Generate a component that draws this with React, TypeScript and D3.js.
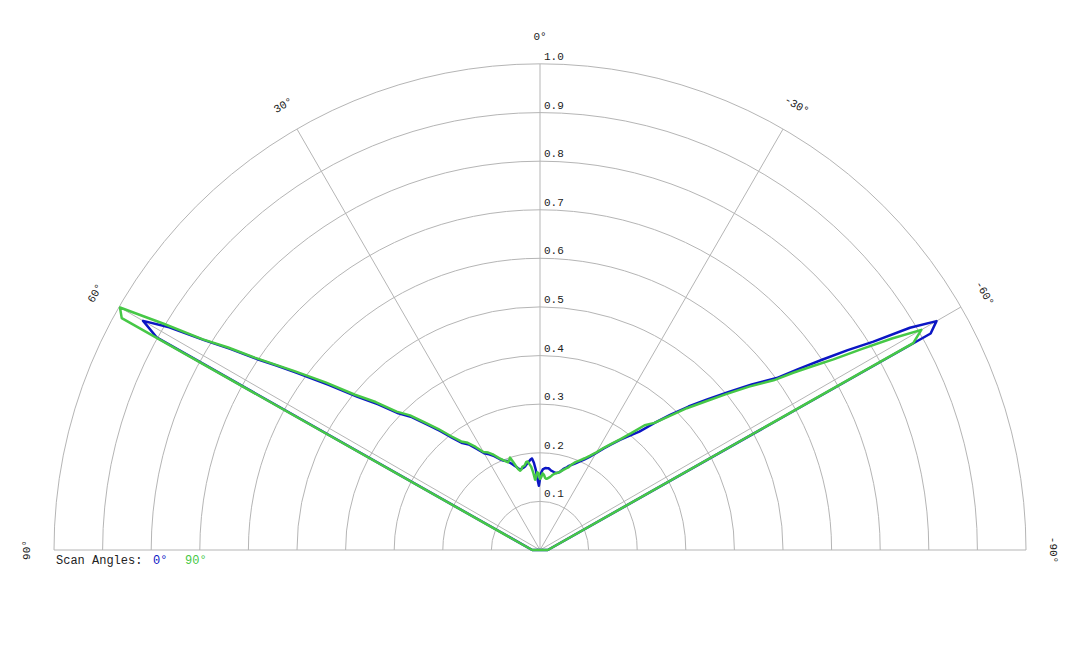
import * as d3 from 'd3';

// scan angle (deg, positive = left of boresight) shared by both series
const angles = [
  -90, -61, -60, -59, -58, -57, -56, -55, -54, -52, -50, -48, -46, -44, -42, -40,
  -38, -36, -34, -32, -30, -28, -26, -24, -22, -20, -19, -18, -17, -16, -15, -14,
  -13, -12, -11, -10, -9, -8, -7, -6, -5, -4, -3, -2, -1, 0, 1, 2, 3, 4, 5, 6, 7,
  8, 9, 10, 11, 12, 13, 14, 15, 16, 17, 18, 19, 20, 22, 24, 26, 28, 30, 32, 34,
  36, 38, 40, 42, 44, 46, 48, 50, 52, 54, 55, 56, 57, 58, 59, 60, 61, 90,
];

const scan0 = [
  0.016, 0.919, 0.942, 0.888, 0.809, 0.755, 0.7, 0.65, 0.602, 0.553, 0.505, 0.463,
  0.425, 0.387, 0.351, 0.318, 0.298, 0.28, 0.262, 0.246, 0.23, 0.217, 0.207, 0.199,
  0.192, 0.186, 0.183, 0.179, 0.176, 0.173, 0.169, 0.165, 0.163, 0.162, 0.162,
  0.163, 0.164, 0.165, 0.167, 0.169, 0.169, 0.169, 0.168, 0.166, 0.16, 0.146,
  0.132, 0.145, 0.165, 0.18, 0.189, 0.187, 0.184, 0.181, 0.178, 0.175, 0.173,
  0.172, 0.171, 0.171, 0.174, 0.178, 0.182, 0.186, 0.19, 0.195, 0.198, 0.205,
  0.215, 0.223, 0.23, 0.245, 0.262, 0.272, 0.293, 0.32, 0.348, 0.38, 0.405, 0.448,
  0.49, 0.552, 0.622, 0.662, 0.703, 0.76, 0.815, 0.89, 0.943, 0.901, 0.016,
];

const scan90 = [
  0.016, 0.878, 0.906, 0.845, 0.78, 0.72, 0.676, 0.636, 0.594, 0.546, 0.498, 0.456,
  0.42, 0.383, 0.352, 0.335, 0.305, 0.282, 0.264, 0.248, 0.232, 0.22, 0.21, 0.202,
  0.195, 0.186, 0.18, 0.177, 0.174, 0.171, 0.168, 0.165, 0.163, 0.162, 0.16, 0.158,
  0.155, 0.152, 0.15, 0.148, 0.147, 0.149, 0.155, 0.158, 0.15, 0.146, 0.158, 0.16,
  0.15, 0.145, 0.16, 0.172, 0.178, 0.184, 0.183, 0.178, 0.176, 0.175, 0.17, 0.168,
  0.172, 0.18, 0.19, 0.2, 0.195, 0.192, 0.199, 0.207, 0.218, 0.227, 0.233, 0.25,
  0.266, 0.276, 0.297, 0.325, 0.353, 0.385, 0.41, 0.455, 0.497, 0.56, 0.628, 0.665,
  0.708, 0.765, 0.818, 0.905, 0.998, 0.984, 0.016,
];

const ringValues = [0.1, 0.2, 0.3, 0.4, 0.5, 0.6, 0.7, 0.8, 0.9, 1.0];
const spokeAngles = [60, 30, 0, -30, -60];
const angleLabels = [90, 60, 30, 0, -30, -60, -90];

const series = [
  { name: '0°', values: scan0, color: '#0b16c4' },
  { name: '90°', values: scan90, color: '#46c846' },
];

const WIDTH = 1080;
const HEIGHT = 648;
const CX = 540;
const CY = 550;
const R = 486;
const FONT = '"Liberation Mono", "Courier New", monospace';
const GRID = '#b5b5b5';

export default function App() {
  const r = d3.scaleLinear().domain([0, 1]).range([0, R]);
  const toRad = (deg: number) => (-deg * Math.PI) / 180;

  const line = d3
    .lineRadial<[number, number]>()
    .angle((d) => toRad(d[0]))
    .radius((d) => r(d[1]))
    .curve(d3.curveLinearClosed);

  const ringPath = (v: number) => {
    const p = d3.path();
    p.moveTo(-r(v), 0);
    p.arc(0, 0, r(v), Math.PI, 2 * Math.PI);
    return p.toString();
  };

  return (
    <svg
      width={WIDTH}
      height={HEIGHT}
      style={{ position: 'absolute', left: 0, top: 0, background: '#fff' }}
      fontFamily={FONT}
    >
      <g transform={`translate(${CX},${CY})`}>
        {/* rings */}
        {ringValues.map((v) => (
          <path key={v} d={ringPath(v)} fill="none" stroke={GRID} strokeWidth={1} />
        ))}
        {/* baseline */}
        <line x1={-R} x2={R} y1={0} y2={0} stroke={GRID} strokeWidth={1} />
        {/* spokes */}
        {spokeAngles.map((a) => (
          <line
            key={a}
            x1={0}
            y1={0}
            x2={r(1) * Math.sin(toRad(a))}
            y2={-r(1) * Math.cos(toRad(a))}
            stroke={GRID}
            strokeWidth={1}
          />
        ))}
        {/* radial tick labels */}
        {ringValues.map((v) => (
          <text key={v} x={4} y={-r(v) - 4} fontSize={11} fill="#222">
            {v.toFixed(1)}
          </text>
        ))}
        {/* angle labels */}
        {angleLabels.map((a) => {
          const lr = R + 28;
          const x = lr * Math.sin(toRad(a));
          const y = -lr * Math.cos(toRad(a));
          return (
            <text
              key={a}
              transform={`translate(${x},${y}) rotate(${-a})`}
              textAnchor="middle"
              dy="0.35em"
              fontSize={11}
              fill="#222"
            >
              {`${a}°`}
            </text>
          );
        })}
        {/* data */}
        {series.map((s) => (
          <path
            key={s.name}
            d={line(angles.map((a, i) => [a, s.values[i]]) as [number, number][]) || ''}
            fill="none"
            stroke={s.color}
            strokeWidth={2.5}
            strokeLinejoin="round"
          />
        ))}
      </g>
      {/* legend */}
      <text x={56} y={563.5} fontSize={12} fill="#222">
        Scan Angles:
      </text>
      <text x={153} y={563.5} fontSize={12} fill={series[0].color}>
        {series[0].name}
      </text>
      <text x={185} y={563.5} fontSize={12} fill={series[1].color}>
        {series[1].name}
      </text>
    </svg>
  );
}
